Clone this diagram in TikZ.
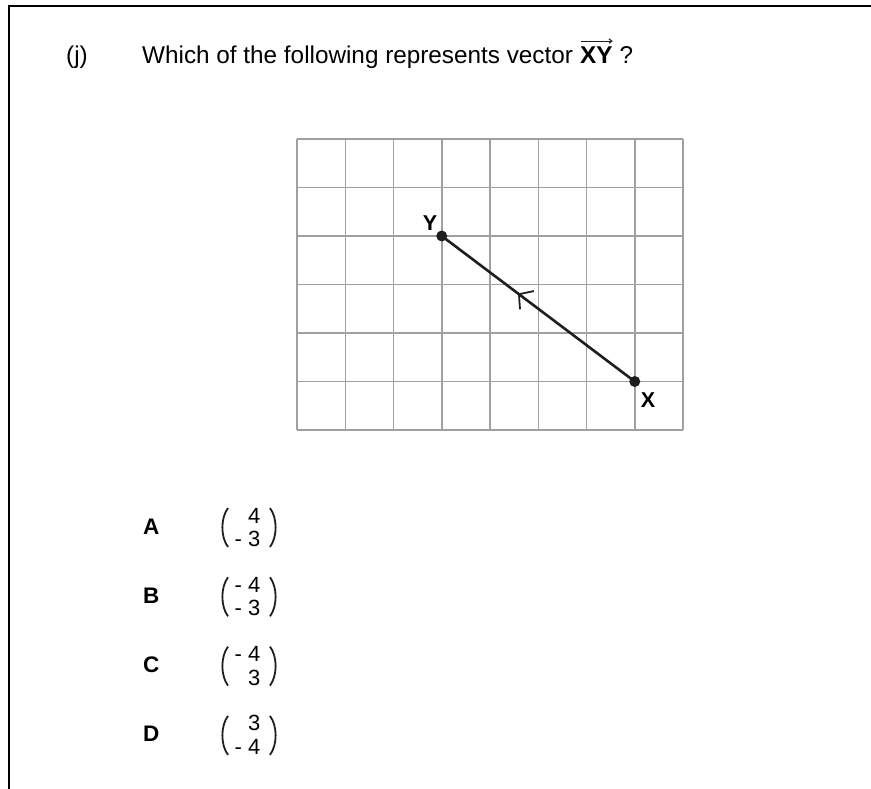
\documentclass[tikz,border=0pt]{standalone}
\usepackage{fontspec}
\setmainfont{Liberation Sans}
\usetikzlibrary{decorations.markings,arrows.meta}
\definecolor{gridgray}{RGB}{160,160,160}
\definecolor{ink}{RGB}{30,30,30}
\tikzset{
  txt/.style={anchor=base west,inner sep=0pt,font=\fontsize{24.3}{28}\selectfont},
  optlabel/.style={anchor=base west,inner sep=0pt,font=\fontsize{22.5}{26}\selectfont\bfseries},
  entry/.style={anchor=base east,inner sep=0pt,font=\fontsize{22}{25}\selectfont},
  ptlabel/.style={inner sep=0pt,font=\fontsize{21.5}{24}\selectfont\bfseries},
  gridline/.style={draw=gridgray,line width=1.5pt},
  vecline/.style={draw=ink,line width=2.6pt},
  paren/.style={draw=ink,line width=1.8pt},
  frameline/.style={draw=black,line width=2pt}
}
\begin{document}
\begin{tikzpicture}[x=1pt,y=-1pt]
\useasboundingbox (0,0) rectangle (871,789);
% frame
\draw[frameline] (871,6.5) -- (8.5,6.5) -- (8.5,789);
% question
\node[txt] (qj) at (66,64) {(j)};
\node[txt] (qt) at (142,64) {Which of the following represents vector};
\node[txt,font=\fontsize{24.3}{28}\selectfont\bfseries] (xy) at ([xshift=6.7pt]qt.base east) {XY};
\node[txt] (qm) at ([xshift=6.7pt]xy.base east) {?};
\draw[ink,line width=1pt,-{Straight Barb[length=3pt,width=4.5pt]}]
  ([yshift=6pt,xshift=1pt]xy.north west) -- ([yshift=6pt]xy.north east);
% grid
\foreach \i in {0,...,8} {
  \draw[gridline] (297+\i*48.25,139) -- (297+\i*48.25,430);
}
\foreach \j in {0,...,6} {
  \draw[gridline] (297,139+\j*48.5) -- (683,139+\j*48.5);
}
\coordinate (Y) at (441.75,236);
\coordinate (X) at (634.75,381.5);
\draw[vecline,postaction={decorate},
  decoration={markings,mark=at position 0.6 with {\draw[ink,line width=1.8pt] (-10pt,11.5pt) -- (0pt,0pt) -- (-10pt,-11.5pt);}}]
  (X) -- (Y);
\fill[ink] (Y) circle (5.5);
\fill[ink] (X) circle (5.5);
\node[ptlabel] (lY) at (430,223) {Y};
\node[ptlabel] (lX) at (648,400.5) {X};
% options
\foreach \lab/\top/\bot [count=\k from 0] in {A/4/- 3, B/- 4/- 3, C/- 4/3, D/3/- 4} {
  \pgfmathsetmacro{\b}{534+\k*69.3}
  \node[optlabel] (opt\lab) at (143,\b) {\lab};
  \node[entry] (top\lab) at (260.5,\b-11) {\top};
  \node[entry] (bot\lab) at (260.5,\b+12.5) {\bot};
  \draw[paren] (228,\b-26) .. controls (220.5,\b-16) and (220.5,\b+3) .. (228,\b+13);
  \draw[paren] (270,\b-26) .. controls (277.5,\b-16) and (277.5,\b+3) .. (270,\b+13);
}
\end{tikzpicture}
\end{document}
